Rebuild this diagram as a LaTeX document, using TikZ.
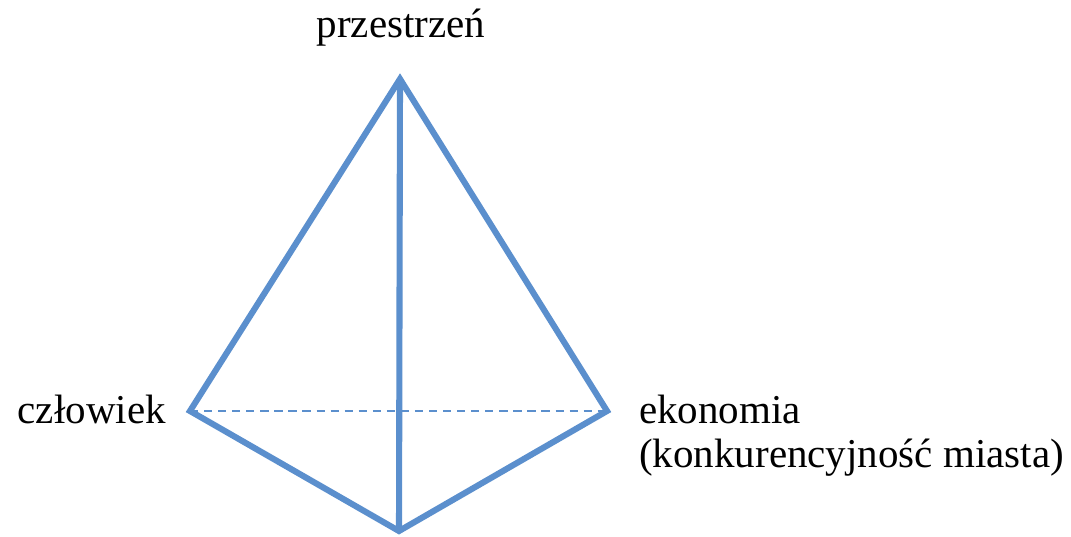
\documentclass[tikz,border=0pt]{standalone}
\usepackage{fontspec}
\setmainfont{Liberation Serif}
\usepackage{xcolor}
\definecolor{edgeblue}{RGB}{91,143,205}

\begin{document}
\begin{tikzpicture}[x=0.03cm,y=-0.03cm,
  edge/.style={edgeblue,line width=5.2pt,line join=miter},
  hidden/.style={edgeblue,line width=1.6pt,dash pattern=on 7pt off 5pt},
  lbl/.style={inner sep=0pt,font=\fontsize{35}{41}\selectfont}]
\useasboundingbox (0,0) rectangle (1071,537);
\coordinate (top) at (400,79);
\coordinate (left) at (190,411);
\coordinate (right) at (607,411);
\coordinate (bottom) at (399,531);
% hidden back edge
\draw[hidden] (left)--(right);
\draw[edge] (left)--(top)--(right)--(bottom)--cycle;
\draw[edge] (top)--(bottom);
\node[lbl,anchor=base] (przestrzen) at (401,38) {przestrzeń};
\node[lbl,anchor=base east] (czlowiek) at (166,423) {człowiek};
\node[lbl,anchor=base west] (ekonomia) at (639,423) {ekonomia};
\node[lbl,anchor=base west] (konkurencja) at (639,467) {(konkurencyjność miasta)};
\end{tikzpicture}
\end{document}
